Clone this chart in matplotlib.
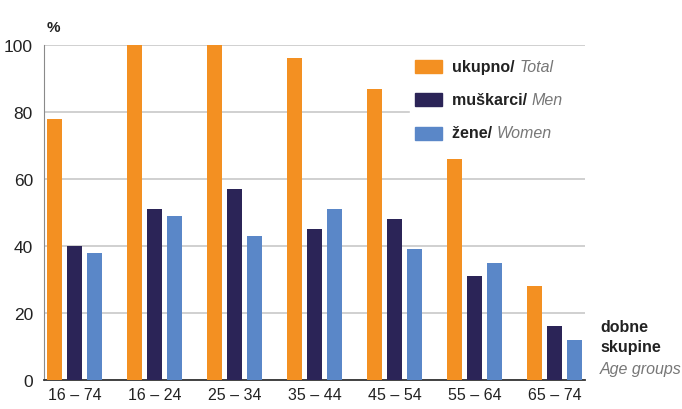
"""
Grouped bar chart: share by age group (total / men / women).
"""

import matplotlib
matplotlib.use("Agg")
import matplotlib.pyplot as plt
from matplotlib.patches import Rectangle
import numpy as np

plt.rcParams["font.family"] = ["Liberation Sans", "DejaVu Sans"]

age_groups = ["16 – 74", "16 – 24", "25 – 34", "35 – 44", "45 – 54", "55 – 64", "65 – 74"]
total = [78, 100, 100, 96, 87, 66, 28]
men = [40, 51, 57, 45, 48, 31, 16]
women = [38, 49, 43, 51, 39, 35, 12]

series_hr = ["ukupno/ ", "muškarci/ ", "žene/ "]
series_en = ["Total", "Men", "Women"]
colors = ["#F39022", "#2B2457", "#5A87C8"]
yticks = [0, 20, 40, 60, 80, 100]

fig = plt.figure(figsize=(6.82, 4.10), dpi=100)
ax = fig.add_axes([0.0645, 0.0707, 0.7933, 0.8171])

x = np.arange(len(age_groups))
width = 0.19
for off, vals, col in zip([-0.25, 0, 0.25], [total, men, women], colors):
    ax.bar(x + off, vals, width=width, color=col, zorder=3)

ax.set_xlim(-0.38, 6.38)
ax.set_ylim(0, 100)
ax.set_yticks(yticks)
ax.set_yticklabels([str(t) for t in yticks], fontsize=12.5, color="#222222")
ax.set_xticks(x)
ax.set_xticklabels(age_groups, fontsize=11.5, color="#222222")
ax.tick_params(length=0)
ax.tick_params(axis="y", pad=8)
ax.tick_params(axis="x", pad=5)
ax.yaxis.grid(True, color="#C4C4C4", linewidth=1.1, zorder=0)
for s in ["top", "right"]:
    ax.spines[s].set_visible(False)
ax.spines["left"].set_color("#8A8A8A")
ax.spines["bottom"].set_color("#333333")
ax.spines["bottom"].set_linewidth(1.3)

fig.text(47 / 682, 1 - 28 / 410, "%", fontsize=11, fontweight="bold",
         color="#222222", ha="left", va="center")

# white box behind the legend hides the grid there
fig.add_artist(Rectangle((410 / 682, 1 - 150 / 410), 190 / 682, 98 / 410,
                         transform=fig.transFigure, color="white", zorder=1))

# legend drawn by hand (mixed bold / italic labels)
fig.canvas.draw()
renderer = fig.canvas.get_renderer()
leg_y = [67.5, 100.5, 134]
for hr, en, col, yp in zip(series_hr, series_en, colors, leg_y):
    fig.add_artist(Rectangle((415 / 682, 1 - (yp + 6.5) / 410), 27 / 682, 13 / 410,
                             transform=fig.transFigure, color=col, zorder=2))
    t = fig.text(452 / 682, 1 - yp / 410, hr, fontsize=11.5, fontweight="bold",
                 color="#222222", ha="left", va="center", zorder=2)
    bb = t.get_window_extent(renderer)
    fig.text(bb.x1 / fig.bbox.width, 1 - yp / 410, en, fontsize=11.5, style="italic",
             color="#777777", ha="left", va="center", zorder=2)

fig.text(600 / 682, 1 - 327 / 410, "dobne", fontsize=11.5, fontweight="bold",
         color="#222222", ha="left", va="center")
fig.text(600 / 682, 1 - 348 / 410, "skupine", fontsize=11.5, fontweight="bold",
         color="#222222", ha="left", va="center")
fig.text(600 / 682, 1 - 370 / 410, "Age groups", fontsize=11.5, style="italic",
         color="#777777", ha="left", va="center")

fig.savefig("out.png", dpi=100)
